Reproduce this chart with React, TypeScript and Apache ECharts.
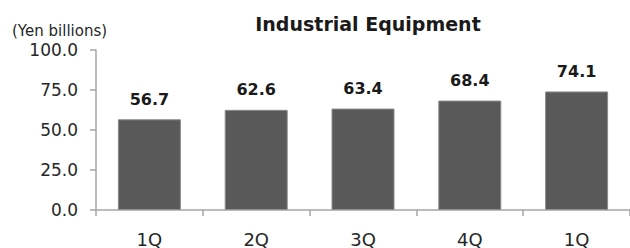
import React, { useEffect, useRef } from "react";
import * as echarts from "echarts";

const categories = ["1Q", "2Q", "3Q", "4Q", "1Q"];
const values = [56.7, 62.6, 63.4, 68.4, 74.1];
const yTicks = { min: 0, max: 100, interval: 25 };
const titleText = "Industrial Equipment";
const unitText = "(Yen billions)";

const FONT = "'DejaVu Sans', Verdana, sans-serif";

export default function App() {
  const ref = useRef<HTMLDivElement>(null);
  useEffect(() => {
    if (!ref.current) return;
    const chart = echarts.init(ref.current, null, { renderer: "svg" });
    chart.setOption({
      animation: false,
      backgroundColor: "#ffffff",
      textStyle: { fontFamily: FONT },
      title: {
        text: titleText,
        left: 363,
        textAlign: "center",
        top: 9,
        textStyle: { fontFamily: FONT, fontSize: 19, fontWeight: "bold", color: "#1a1a1a" },
      },
      graphic: [
        {
          type: "text",
          left: 12,
          top: 23,
          style: { text: unitText, font: `15px ${FONT}`, fill: "#262626" },
        },
      ],
      grid: { left: 96, top: 50, width: 535, height: 162, containLabel: false },
      xAxis: {
        type: "category",
        data: categories,
        boundaryGap: true,
        axisLine: { show: true, lineStyle: { color: "#a6a6a6", width: 1.5 } },
        axisTick: { show: true, length: 6, alignWithLabel: false, lineStyle: { color: "#a6a6a6", width: 1.5 } },
        axisLabel: { margin: 20, fontSize: 18, color: "#262626", fontFamily: FONT },
        splitLine: { show: false },
      },
      yAxis: {
        type: "value",
        min: yTicks.min,
        max: yTicks.max,
        interval: yTicks.interval,
        axisLine: { show: true, lineStyle: { color: "#a6a6a6", width: 1.5 } },
        axisTick: { show: true, length: 6, lineStyle: { color: "#a6a6a6", width: 1.5 } },
        axisLabel: {
          margin: 18,
          fontSize: 17,
          color: "#262626",
          fontFamily: FONT,
          formatter: (v: number) => v.toFixed(1),
        },
        splitLine: { show: false },
      },
      series: [
        {
          type: "bar",
          data: values,
          barWidth: 63,
          itemStyle: { color: "#595959", borderColor: "#8c8c8c", borderWidth: 1 },
          label: {
            show: true,
            position: "top",
            distance: 12,
            fontSize: 16,
            fontWeight: "bold",
            color: "#1a1a1a",
            fontFamily: FONT,
            formatter: (p: any) => Number(p.value).toFixed(1),
          },
        },
      ],
    });
    return () => chart.dispose();
  }, []);
  return (
    <div
      ref={ref}
      style={{ position: "fixed", left: 0, top: 0, width: 630, height: 248 }}
    />
  );
}
